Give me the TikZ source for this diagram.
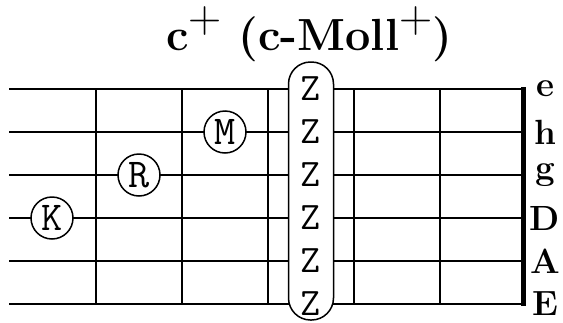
\documentclass[tikz,border=0pt]{standalone}
\usepackage{fix-cm}
\usepackage{fontspec}
\usepackage{tikz}
\newcommand{\hoch}{\raisebox{.38em}{\fontsize{46}{46}\selectfont\mdseries +}}
\begin{document}
\begin{tikzpicture}[x=1pt, y=-1pt,
  finger/.style={draw, circle, line width=1.5pt, fill=white, minimum size=42pt, inner sep=0pt, font=\fontsize{41}{44}\selectfont\ttfamily},
  barre/.style={draw, rounded corners=22pt, line width=1.5pt, fill=white, minimum width=45pt, minimum height=258pt, inner sep=0pt},
  ztext/.style={font=\fontsize{39}{42}\selectfont\ttfamily, inner sep=0pt},
  saite/.style={inner sep=0pt, font=\fontsize{35}{37}\selectfont\bfseries}]
\useasboundingbox (0,0) rectangle (563,322);
% titel
\node[anchor=base, font=\fontsize{45}{50}\selectfont\bfseries] (titel) at (309,50) {c\hoch\ (c-Moll\hoch)};
% saiten
\foreach \y [count=\i] in {89,132,175,218,261,304} {
  \coordinate (s\i-l) at (9,\y);
  \coordinate (s\i-r) at (523,\y);
  \draw[line width=1.2pt] (s\i-l) -- (s\i-r);
}
% buende
\foreach \x [count=\j] in {96,182,268,354,440} {
  \coordinate (b\j-o) at (\x,89);
  \coordinate (b\j-u) at (\x,304);
  \draw[line width=1.8pt] (b\j-o) -- (b\j-u);
}
\coordinate (sattel-o) at (523,87);
\coordinate (sattel-u) at (523,306);
\draw[line width=5pt] (sattel-o) -- (sattel-u);
% saitennamen
\foreach \n/\y in {e/89,h/132,g/175,D/218,A/261,E/304}
  \node[saite] (name-\n) at (545,\y) {\n};
% finger
\node[finger] (kleiner) at (52,218) {K};
\node[finger] (ring) at (139,175) {R};
\node[finger] (mittel) at (225,132) {M};
% barre
\node[barre] (zeige) at (311,191) {};
\foreach \y [count=\i] in {89,132,175,218,261,304}
  \node[ztext] (z\i) at (311,\y) {Z};
\end{tikzpicture}
\end{document}
